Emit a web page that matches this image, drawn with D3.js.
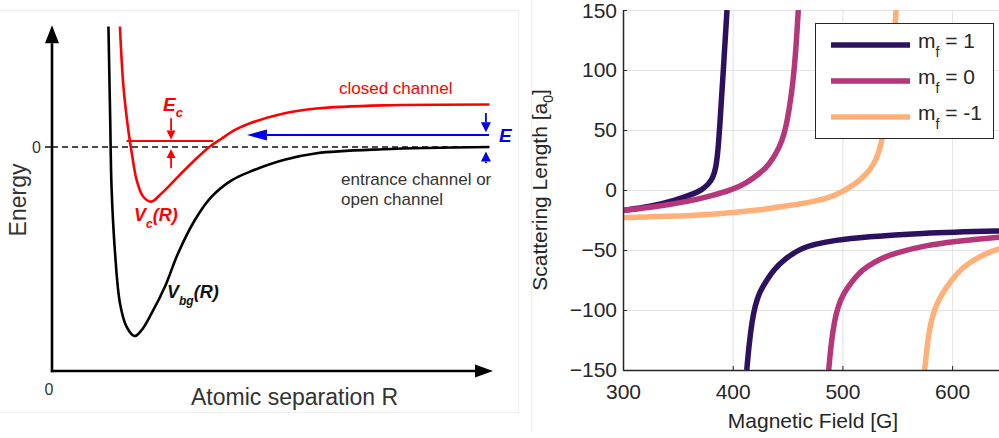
<!doctype html>
<html>
<head>
<meta charset="utf-8">
<title>Feshbach resonance</title>
<script src="https://cdn.jsdelivr.net/npm/d3@7"></script>
<style>
  body { margin: 0; background: #fff; }
  svg { display: block; font-family: "Liberation Sans", Arial, Helvetica, sans-serif; }
</style>
</head>
<body>
<svg id="chart" width="999" height="438"></svg>
<script>
// ---- left panel: schematic potentials (R, energy in arbitrary units) ----
var vbgCurve = [[1.28,2.69],[1.32,0.60],[1.35,-0.89],[1.43,-2.37],[1.54,-3.48],[1.69,-4.01],[1.87,-4.22],
  [2.03,-4.09],[2.26,-3.71],[2.56,-3.12],[2.86,-2.37],[3.24,-1.63],[3.62,-1.11],[4.08,-0.74],[4.49,-0.55],
  [5.25,-0.29],[6.00,-0.14],[7.51,-0.05],[9.92,0]];
var vcCurve = [[1.54,2.69],[1.62,1.35],[1.73,0.38],[1.81,-0.14],[1.92,-0.74],[2.07,-1.11],[2.25,-1.22],
  [2.49,-1.03],[2.86,-0.66],[3.24,-0.29],[3.58,0.01],[3.85,0.19],[4.15,0.38],[4.49,0.53],[5.25,0.75],
  [6.00,0.86],[7.51,0.93],[9.92,0.95]];
var boundLevel = 0.134;   // E_c level
var entranceE = 0.268;    // collision energy E

// ---- right panel: scattering length vs field ----
var fieldTicks = [300, 400, 500, 600];
var gridFields = [300, 400, 500, 600, 700];
var lengthTicks = [-150, -100, -50, 0, 50, 100, 150];
var seriesNames = ["1", "0", "-1"];
var seriesColors = ["#2c115f", "#b5367a", "#feb078"];

var mf1Upper = [[300,-17],[325,-14],[348,-8.5],[362,-4],[372,0],[378,5],[382,10],[384.8,19],[386.5,32],
  [388,50],[391.5,100],[394.8,150]];
var mf1Lower = [[412.8,-150],[414.8,-130],[417.5,-110],[420.5,-96],[424.5,-85],[431,-75],[438,-66],
  [446,-58.5],[461,-49],[476,-45],[492,-42],[522,-39],[568,-36],[643,-34],[700,-33]];
var mf0Upper = [[300,-17],[330,-14],[360,-9.5],[380,-5],[399,0],[412,5.5],[425,14],[433,21],[440,31],
  [445,41],[448.5,52],[452,70],[455,90],[457.5,115],[459.8,150]];
var mf0Lower = [[487.5,-150],[489.5,-130],[492.5,-110],[496,-97],[501,-86],[509,-76],[515,-69.5],[522,-64],
  [535,-57],[548,-52.5],[577,-46],[600,-43],[643,-39],[700,-36]];
var mfm1Upper = [[300,-23],[340,-22],[380,-20.5],[425,-16.7],[455,-12.5],[472,-10],[486,-7],[497,-3],
  [507,2.5],[515,7.5],[522,13.5],[528,20.5],[533,30],[537,45],[540.5,66],[543.5,90],[546.5,118],[549,150]];
var mfm1Lower = [[575,-150],[577,-132],[579.5,-115],[583,-102],[588,-91],[595,-80.5],[604,-70],[613,-62],
  [628,-54],[643,-48.5],[670,-43],[700,-40]];

var branches = [[mf1Upper, mf1Lower], [mf0Upper, mf0Lower], [mfm1Upper, mfm1Lower]];

var svg = d3.select("#chart");

// faint frames of the two source pictures
svg.append("path").attr("d", "M0,10.5H518.5V412.5H0").attr("fill", "none").attr("stroke", "#eeeeee");
svg.append("line").attr("x1", 531.5).attr("x2", 531.5).attr("y1", 0).attr("y2", 432)
  .attr("stroke", "#eeeeee");

// ================= LEFT PANEL =================
var xR = d3.scaleLinear().domain([0, 10]).range([52, 493]);
var yE = d3.scaleLinear().domain([-5, 0]).range([371, 147]);

function arrow(g, x1, y1, x2, y2, color, width, headLen, headHalf) {
  var ang = Math.atan2(y2 - y1, x2 - x1);
  var bx = x2 - headLen * Math.cos(ang), by = y2 - headLen * Math.sin(ang);
  g.append("line").attr("x1", x1).attr("y1", y1).attr("x2", bx).attr("y2", by)
    .attr("stroke", color).attr("stroke-width", width);
  var px = -Math.sin(ang) * headHalf, py = Math.cos(ang) * headHalf;
  g.append("path")
    .attr("d", "M" + x2 + "," + y2 + "L" + (bx + px) + "," + (by + py) + "L" + (bx - px) + "," + (by - py) + "Z")
    .attr("fill", color);
}

var left = svg.append("g");

// zero energy dashed line + tick
left.append("line").attr("x1", xR(0)).attr("x2", xR(9.9)).attr("y1", yE(0)).attr("y2", yE(0))
  .attr("stroke", "#111").attr("stroke-width", 1.5).attr("stroke-dasharray", "6,4");
left.append("line").attr("x1", xR(0) - 7).attr("x2", xR(0)).attr("y1", yE(0)).attr("y2", yE(0))
  .attr("stroke", "#111").attr("stroke-width", 1.5);

// axes with arrow heads
arrow(left, xR(0), yE(-5) + 1.2, xR(0), yE(2.72), "#000", 2.6, 18, 7);
arrow(left, xR(0) - 1.2, yE(-5), xR(10), yE(-5), "#000", 2.6, 18, 6.5);

var curveLine = d3.line().x(function(d) { return xR(d[0]); }).y(function(d) { return yE(d[1]); })
  .curve(d3.curveCatmullRom.alpha(0.5));

left.append("path").datum(vbgCurve).attr("d", curveLine)
  .attr("fill", "none").attr("stroke", "#000").attr("stroke-width", 2.6);
left.append("path").datum(vcCurve).attr("d", curveLine)
  .attr("fill", "none").attr("stroke", "#ff0000").attr("stroke-width", 2.6);

// bound state level in the closed channel
left.append("line").attr("x1", xR(1.69)).attr("x2", xR(3.66))
  .attr("y1", yE(boundLevel)).attr("y2", yE(boundLevel))
  .attr("stroke", "#ff0000").attr("stroke-width", 2.2);
arrow(left, xR(2.70), yE(0.64), xR(2.70), yE(boundLevel) - 1.5, "#ff0000", 1.8, 9, 4.5);
arrow(left, xR(2.70), yE(-0.475), xR(2.70), yE(0) + 2, "#ff0000", 1.8, 9, 4.5);

// collision energy arrow
arrow(left, xR(9.91), yE(entranceE), xR(4.42), yE(entranceE), "#0000ee", 2.2, 20, 5.5);
arrow(left, xR(9.84), yE(0.76), xR(9.84), yE(0.33), "#0000ee", 1.8, 10, 5);
arrow(left, xR(9.84), yE(-0.36), xR(9.84), yE(-0.1), "#0000ee", 1.8, 10, 5);

// labels
left.append("text").attr("x", 41).attr("y", yE(0) + 6).attr("text-anchor", "end")
  .attr("font-size", 16).attr("fill", "#333").text("0");
left.append("text").attr("x", 49).attr("y", 395).attr("text-anchor", "middle")
  .attr("font-size", 16).attr("fill", "#333").text("0");
left.append("text").attr("transform", "translate(26,200) rotate(-90)").attr("text-anchor", "middle")
  .attr("font-size", 23).attr("fill", "#333").text("Energy");
left.append("text").attr("x", 191).attr("y", 405)
  .attr("font-size", 23).attr("fill", "#333").text("Atomic separation R");

left.append("text").attr("x", 339).attr("y", 94).attr("font-size", 17).attr("fill", "#ff0000")
  .text("closed channel");
left.append("text").attr("x", 341).attr("y", 185).attr("font-size", 17).attr("fill", "#333")
  .text("entrance channel or");
left.append("text").attr("x", 341).attr("y", 205).attr("font-size", 17).attr("fill", "#333")
  .text("open channel");

var ec = left.append("text").attr("x", 163).attr("y", 111).attr("font-size", 19)
  .attr("font-weight", "bold").attr("font-style", "italic").attr("fill", "#ff0000");
ec.append("tspan").text("E");
ec.append("tspan").attr("dy", 6).attr("font-size", 13).text("c");

left.append("text").attr("x", 499).attr("y", 142).attr("font-size", 19)
  .attr("font-weight", "bold").attr("font-style", "italic").attr("fill", "#0000ee").text("E");

var vc = left.append("text").attr("x", 134).attr("y", 221).attr("font-size", 18)
  .attr("font-weight", "bold").attr("font-style", "italic").attr("fill", "#ff0000");
vc.append("tspan").text("V");
vc.append("tspan").attr("dy", 7).attr("font-size", 12).text("c");
vc.append("tspan").attr("dy", -7).text("(R)");

var vb = left.append("text").attr("x", 167).attr("y", 298).attr("font-size", 18)
  .attr("font-weight", "bold").attr("font-style", "italic").attr("fill", "#111");
vb.append("tspan").text("V");
vb.append("tspan").attr("dy", 7).attr("font-size", 12).text("bg");
vb.append("tspan").attr("dy", -7).text("(R)");

// ================= RIGHT PANEL =================
var xB = d3.scaleLinear().domain([300, 700]).range([623, 623 + 4 * 109.7]);
var ya = d3.scaleLinear().domain([-150, 150]).range([370, 10]);

var right = svg.append("g");
right.append("clipPath").attr("id", "plotclip").append("rect")
  .attr("x", 623).attr("y", 10).attr("width", 460).attr("height", 360);

// grid
right.append("g").selectAll("line").data(gridFields).join("line")
  .attr("x1", function(d) { return xB(d) + 0.5; }).attr("x2", function(d) { return xB(d) + 0.5; })
  .attr("y1", ya(150)).attr("y2", ya(-150))
  .attr("stroke", "#e3e3e3").attr("stroke-width", 1);
right.append("g").selectAll("line").data(lengthTicks).join("line")
  .attr("x1", xB(300)).attr("x2", xB(700))
  .attr("y1", function(d) { return ya(d) + 0.5; }).attr("y2", function(d) { return ya(d) + 0.5; })
  .attr("stroke", "#e3e3e3").attr("stroke-width", 1);

// curves
var fieldLine = d3.line().x(function(d) { return xB(d[0]); }).y(function(d) { return ya(d[1]); })
  .curve(d3.curveBasis);
var curves = right.append("g").attr("clip-path", "url(#plotclip)");
branches.forEach(function(pair, i) {
  pair.forEach(function(branch) {
    curves.append("path").datum(branch).attr("d", fieldLine)
      .attr("fill", "none").attr("stroke", seriesColors[i]).attr("stroke-width", 5.5);
  });
});

// axes
var yAxis = d3.axisLeft(ya).tickValues(lengthTicks).tickSizeInner(-4).tickSizeOuter(0).tickPadding(6);
var xAxis = d3.axisBottom(xB).tickValues(fieldTicks).tickSizeInner(-4).tickSizeOuter(0).tickPadding(14);

var gy = right.append("g").attr("transform", "translate(623,0)").call(yAxis);
var gx = right.append("g").attr("transform", "translate(0,370)").call(xAxis);
[gy, gx].forEach(function(g) {
  g.select(".domain").attr("stroke", "#262626").attr("stroke-width", 1.5);
  g.selectAll(".tick line").attr("stroke", "#262626").attr("stroke-width", 1);
  g.selectAll(".tick text").attr("font-size", 21).attr("fill", "#262626")
    .attr("font-family", "'Liberation Sans', Arial, sans-serif");
});
gy.selectAll(".tick text").filter(function(d) { return d === 150; }).attr("dy", "0.36em");

right.append("text").attr("x", 813).attr("y", 428).attr("text-anchor", "middle")
  .attr("font-size", 21).attr("fill", "#262626").text("Magnetic Field [G]");

var yl = right.append("text").attr("transform", "translate(547,190) rotate(-90)")
  .attr("text-anchor", "middle").attr("font-size", 21).attr("fill", "#262626");
yl.append("tspan").text("Scattering Length [a");
yl.append("tspan").attr("dy", 6).attr("font-size", 14).text("0");
yl.append("tspan").attr("dy", -6).text("]");

// legend
var legend = right.append("g");
legend.append("rect").attr("x", 815.5).attr("y", 23.5).attr("width", 178).attr("height", 115)
  .attr("fill", "#fff").attr("stroke", "#262626").attr("stroke-width", 1);
seriesNames.forEach(function(name, i) {
  var ly = 45 + i * 36;
  legend.append("line").attr("x1", 831).attr("x2", 910).attr("y1", ly).attr("y2", ly)
    .attr("stroke", seriesColors[i]).attr("stroke-width", 5.5);
  var t = legend.append("text").attr("x", 918).attr("y", ly + 3).attr("font-size", 21).attr("fill", "#262626");
  t.append("tspan").text("m");
  t.append("tspan").attr("dy", 9).attr("font-size", 14).text("f");
  t.append("tspan").attr("dy", -9).text(" = " + name);
});
</script>
</body>
</html>
